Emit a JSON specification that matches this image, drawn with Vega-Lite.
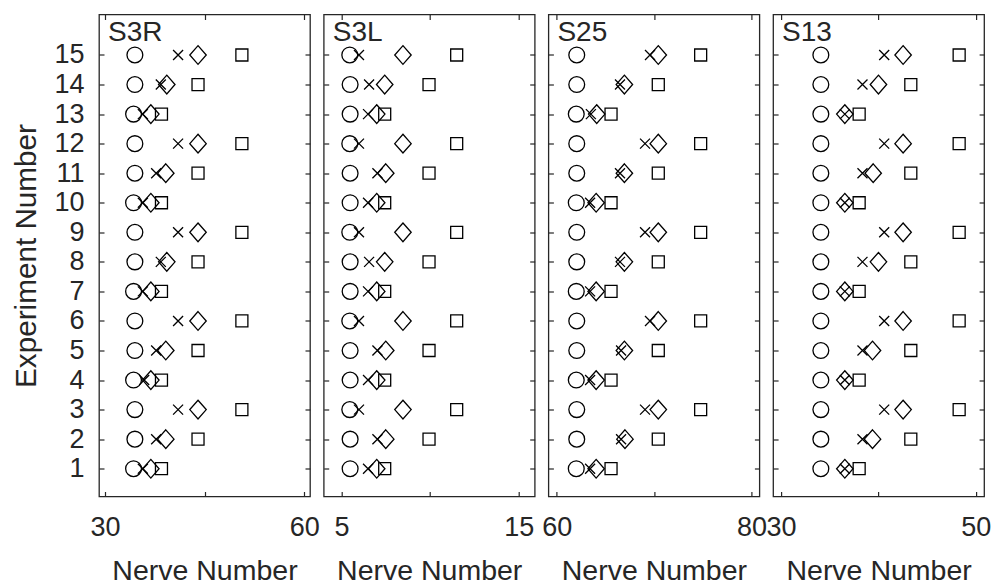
{
  "$schema": "https://vega.github.io/schema/vega-lite/v6.json",
  "autosize": {"type": "pad"},
  "padding": {"left": 10, "top": 12.5, "right": 3, "bottom": 0},
  "bounds": "flush",
  "spacing": 13.7,
  "background": "white",
  "data": {"values": [
    {"panel": "S3R", "exp": 15, "circle": 34.5, "cross": 41.0, "diamond": 44.0, "square": 50.6},
    {"panel": "S3R", "exp": 14, "circle": 34.5, "cross": 38.4, "diamond": 39.3, "square": 44.0},
    {"panel": "S3R", "exp": 13, "circle": 34.3, "cross": 35.7, "diamond": 36.9, "square": 38.5},
    {"panel": "S3R", "exp": 12, "circle": 34.5, "cross": 41.0, "diamond": 44.0, "square": 50.6},
    {"panel": "S3R", "exp": 11, "circle": 34.5, "cross": 37.7, "diamond": 39.15, "square": 44.0},
    {"panel": "S3R", "exp": 10, "circle": 34.3, "cross": 35.7, "diamond": 36.9, "square": 38.5},
    {"panel": "S3R", "exp": 9, "circle": 34.5, "cross": 41.0, "diamond": 44.0, "square": 50.6},
    {"panel": "S3R", "exp": 8, "circle": 34.5, "cross": 38.4, "diamond": 39.3, "square": 44.0},
    {"panel": "S3R", "exp": 7, "circle": 34.3, "cross": 35.7, "diamond": 36.9, "square": 38.5},
    {"panel": "S3R", "exp": 6, "circle": 34.5, "cross": 41.0, "diamond": 44.0, "square": 50.6},
    {"panel": "S3R", "exp": 5, "circle": 34.5, "cross": 37.7, "diamond": 39.15, "square": 44.0},
    {"panel": "S3R", "exp": 4, "circle": 34.3, "cross": 35.9, "diamond": 36.9, "square": 38.5},
    {"panel": "S3R", "exp": 3, "circle": 34.5, "cross": 41.0, "diamond": 44.0, "square": 50.6},
    {"panel": "S3R", "exp": 2, "circle": 34.5, "cross": 37.7, "diamond": 39.15, "square": 44.0},
    {"panel": "S3R", "exp": 1, "circle": 34.3, "cross": 35.7, "diamond": 36.9, "square": 38.5},
    {"panel": "S3L", "exp": 15, "circle": 5.47, "cross": 5.99, "diamond": 8.47, "square": 11.5},
    {"panel": "S3L", "exp": 14, "circle": 5.49, "cross": 6.56, "diamond": 7.44, "square": 9.94},
    {"panel": "S3L", "exp": 13, "circle": 5.49, "cross": 6.5, "diamond": 6.99, "square": 7.44},
    {"panel": "S3L", "exp": 12, "circle": 5.47, "cross": 5.99, "diamond": 8.47, "square": 11.5},
    {"panel": "S3L", "exp": 11, "circle": 5.49, "cross": 7.03, "diamond": 7.5, "square": 9.94},
    {"panel": "S3L", "exp": 10, "circle": 5.49, "cross": 6.5, "diamond": 6.99, "square": 7.44},
    {"panel": "S3L", "exp": 9, "circle": 5.47, "cross": 5.99, "diamond": 8.47, "square": 11.5},
    {"panel": "S3L", "exp": 8, "circle": 5.49, "cross": 6.56, "diamond": 7.44, "square": 9.94},
    {"panel": "S3L", "exp": 7, "circle": 5.49, "cross": 6.5, "diamond": 6.99, "square": 7.44},
    {"panel": "S3L", "exp": 6, "circle": 5.47, "cross": 5.99, "diamond": 8.47, "square": 11.5},
    {"panel": "S3L", "exp": 5, "circle": 5.49, "cross": 7.03, "diamond": 7.5, "square": 9.94},
    {"panel": "S3L", "exp": 4, "circle": 5.49, "cross": 6.5, "diamond": 6.99, "square": 7.44},
    {"panel": "S3L", "exp": 3, "circle": 5.47, "cross": 5.99, "diamond": 8.47, "square": 11.5},
    {"panel": "S3L", "exp": 2, "circle": 5.49, "cross": 7.03, "diamond": 7.5, "square": 9.94},
    {"panel": "S3L", "exp": 1, "circle": 5.49, "cross": 6.5, "diamond": 6.99, "square": 7.44},
    {"panel": "S25", "exp": 15, "circle": 62.05, "cross": 69.57, "diamond": 70.42, "square": 74.77},
    {"panel": "S25", "exp": 14, "circle": 62.05, "cross": 66.49, "diamond": 66.94, "square": 70.42},
    {"panel": "S25", "exp": 13, "circle": 62.0, "cross": 63.5, "diamond": 64.1, "square": 65.57},
    {"panel": "S25", "exp": 12, "circle": 62.05, "cross": 69.06, "diamond": 70.42, "square": 74.77},
    {"panel": "S25", "exp": 11, "circle": 62.05, "cross": 66.49, "diamond": 66.94, "square": 70.42},
    {"panel": "S25", "exp": 10, "circle": 62.0, "cross": 63.42, "diamond": 64.04, "square": 65.57},
    {"panel": "S25", "exp": 9, "circle": 62.05, "cross": 69.06, "diamond": 70.42, "square": 74.77},
    {"panel": "S25", "exp": 8, "circle": 62.05, "cross": 66.49, "diamond": 66.94, "square": 70.42},
    {"panel": "S25", "exp": 7, "circle": 62.0, "cross": 63.42, "diamond": 64.04, "square": 65.57},
    {"panel": "S25", "exp": 6, "circle": 62.05, "cross": 69.57, "diamond": 70.42, "square": 74.77},
    {"panel": "S25", "exp": 5, "circle": 62.05, "cross": 66.6, "diamond": 66.94, "square": 70.42},
    {"panel": "S25", "exp": 4, "circle": 62.0, "cross": 63.42, "diamond": 64.04, "square": 65.57},
    {"panel": "S25", "exp": 3, "circle": 62.05, "cross": 69.06, "diamond": 70.42, "square": 74.77},
    {"panel": "S25", "exp": 2, "circle": 62.05, "cross": 66.6, "diamond": 67.0, "square": 70.42},
    {"panel": "S25", "exp": 1, "circle": 62.0, "cross": 63.42, "diamond": 64.04, "square": 65.57},
    {"panel": "S13", "exp": 15, "circle": 34.1, "cross": 40.6, "diamond": 42.54, "square": 48.29},
    {"panel": "S13", "exp": 14, "circle": 34.1, "cross": 38.37, "diamond": 40.01, "square": 43.33},
    {"panel": "S13", "exp": 13, "circle": 34.1, "cross": 36.56, "diamond": 36.56, "square": 38.03},
    {"panel": "S13", "exp": 12, "circle": 34.1, "cross": 40.6, "diamond": 42.54, "square": 48.29},
    {"panel": "S13", "exp": 11, "circle": 34.1, "cross": 38.37, "diamond": 39.47, "square": 43.33},
    {"panel": "S13", "exp": 10, "circle": 34.1, "cross": 36.56, "diamond": 36.56, "square": 38.03},
    {"panel": "S13", "exp": 9, "circle": 34.1, "cross": 40.6, "diamond": 42.54, "square": 48.29},
    {"panel": "S13", "exp": 8, "circle": 34.1, "cross": 38.37, "diamond": 40.01, "square": 43.33},
    {"panel": "S13", "exp": 7, "circle": 34.1, "cross": 36.56, "diamond": 36.56, "square": 38.03},
    {"panel": "S13", "exp": 6, "circle": 34.1, "cross": 40.6, "diamond": 42.54, "square": 48.29},
    {"panel": "S13", "exp": 5, "circle": 34.1, "cross": 38.37, "diamond": 39.4, "square": 43.33},
    {"panel": "S13", "exp": 4, "circle": 34.1, "cross": 36.56, "diamond": 36.56, "square": 38.03},
    {"panel": "S13", "exp": 3, "circle": 34.1, "cross": 40.6, "diamond": 42.54, "square": 48.29},
    {"panel": "S13", "exp": 2, "circle": 34.1, "cross": 38.37, "diamond": 39.4, "square": 43.33},
    {"panel": "S13", "exp": 1, "circle": 34.1, "cross": 36.56, "diamond": 36.56, "square": 38.03}
  ]},
  "config": {
    "font": "Liberation Sans",
    "view": {"stroke": "#262626", "strokeWidth": 1.3},
    "axis": {
      "domain": false, "grid": false,
      "tickColor": "#262626", "tickSize": -5, "tickWidth": 1.2,
      "labelFont": "Liberation Sans", "labelFontSize": 27, "labelColor": "#262626",
      "titleFont": "Liberation Sans", "titleFontSize": 29.7, "titleFontWeight": "normal", "titleColor": "#262626"
    },
    "axisBottom": {"labelPadding": 23, "titlePadding": 16, "titleFontSize": 28.5, "labelFlush": false},
    "axisLeft": {"labelPadding": 20, "titlePadding": 12.5},
    "title": {"font": "Liberation Sans", "fontSize": 28, "fontWeight": "normal", "color": "#262626", "anchor": "start", "frame": "group", "baseline": "top", "offset": -33.5, "dx": 9}
  },
  "hconcat": [
    {
      "width": 211, "height": 482,
      "title": {"text": "S3R"},
      "transform": [{"filter": "datum.panel == 'S3R'"}, {"fold": ["circle", "cross", "diamond", "square"], "as": ["marker", "value"]}],
      "layer": [
        {
          "mark": {"type": "point", "filled": false, "stroke": "black", "strokeWidth": 1.3, "opacity": 1},
          "encoding": {
            "x": {"field": "value", "type": "quantitative", "scale": {"domain": [29.1, 60.85], "nice": false, "zero": false}, "axis": {"orient": "bottom", "values": [30, 45, 60], "labelExpr": "datum.index > 0 && datum.index < 1 ? '' : datum.label", "title": "Nerve Number"}},
            "y": {"field": "exp", "type": "quantitative", "scale": {"domain": [0.06, 16.37], "nice": false, "zero": false}, "axis": {"orient": "left", "values": [1,2,3,4,5,6,7,8,9,10,11,12,13,14,15], "title": "Experiment Number"}},
            "shape": {"field": "marker", "type": "nominal", "scale": {"domain": ["circle", "cross", "diamond", "square"], "range": ["circle", "M-1,-1L1,1M-1,1L1,-1", "M0,-1L0.88,0L0,1L-0.88,0Z", "square"]}, "legend": null},
            "size": {"field": "marker", "type": "nominal", "scale": {"type": "ordinal", "domain": ["circle", "cross", "diamond", "square"], "range": [250, 100, 350, 144]}, "legend": null}
          }
        },
        {
          "mark": {"type": "point", "opacity": 0},
          "encoding": {
            "x": {"field": "value", "type": "quantitative", "scale": {"domain": [29.1, 60.85], "nice": false, "zero": false}, "axis": {"orient": "top", "values": [30, 45, 60], "labels": false, "title": null}},
            "y": {"field": "exp", "type": "quantitative", "scale": {"domain": [0.06, 16.37], "nice": false, "zero": false}, "axis": {"orient": "right", "values": [1,2,3,4,5,6,7,8,9,10,11,12,13,14,15], "labels": false, "title": null}}
          }
        }
      ],
      "resolve": {"axis": {"x": "independent", "y": "independent"}}
    },
    {
      "width": 211, "height": 482,
      "title": {"text": "S3L"},
      "transform": [{"filter": "datum.panel == 'S3L'"}, {"fold": ["circle", "cross", "diamond", "square"], "as": ["marker", "value"]}],
      "layer": [
        {
          "mark": {"type": "point", "filled": false, "stroke": "black", "strokeWidth": 1.3, "opacity": 1},
          "encoding": {
            "x": {"field": "value", "type": "quantitative", "scale": {"domain": [4.0, 15.9], "nice": false, "zero": false}, "axis": {"orient": "bottom", "values": [5, 10, 15], "labelExpr": "datum.index > 0 && datum.index < 1 ? '' : datum.label", "title": "Nerve Number"}},
            "y": {"field": "exp", "type": "quantitative", "scale": {"domain": [0.06, 16.37], "nice": false, "zero": false}, "axis": {"orient": "left", "values": [1,2,3,4,5,6,7,8,9,10,11,12,13,14,15], "labels": false, "title": null}},
            "shape": {"field": "marker", "type": "nominal", "scale": {"domain": ["circle", "cross", "diamond", "square"], "range": ["circle", "M-1,-1L1,1M-1,1L1,-1", "M0,-1L0.88,0L0,1L-0.88,0Z", "square"]}, "legend": null},
            "size": {"field": "marker", "type": "nominal", "scale": {"type": "ordinal", "domain": ["circle", "cross", "diamond", "square"], "range": [250, 100, 350, 144]}, "legend": null}
          }
        },
        {
          "mark": {"type": "point", "opacity": 0},
          "encoding": {
            "x": {"field": "value", "type": "quantitative", "scale": {"domain": [4.0, 15.9], "nice": false, "zero": false}, "axis": {"orient": "top", "values": [5, 10, 15], "labels": false, "title": null}},
            "y": {"field": "exp", "type": "quantitative", "scale": {"domain": [0.06, 16.37], "nice": false, "zero": false}, "axis": {"orient": "right", "values": [1,2,3,4,5,6,7,8,9,10,11,12,13,14,15], "labels": false, "title": null}}
          }
        }
      ],
      "resolve": {"axis": {"x": "independent", "y": "independent"}}
    },
    {
      "width": 211, "height": 482,
      "title": {"text": "S25"},
      "transform": [{"filter": "datum.panel == 'S25'"}, {"fold": ["circle", "cross", "diamond", "square"], "as": ["marker", "value"]}],
      "layer": [
        {
          "mark": {"type": "point", "filled": false, "stroke": "black", "strokeWidth": 1.3, "opacity": 1},
          "encoding": {
            "x": {"field": "value", "type": "quantitative", "scale": {"domain": [59.14, 80.8], "nice": false, "zero": false}, "axis": {"orient": "bottom", "values": [60, 70, 80], "labelExpr": "datum.index > 0 && datum.index < 1 ? '' : datum.label", "title": "Nerve Number"}},
            "y": {"field": "exp", "type": "quantitative", "scale": {"domain": [0.06, 16.37], "nice": false, "zero": false}, "axis": {"orient": "left", "values": [1,2,3,4,5,6,7,8,9,10,11,12,13,14,15], "labels": false, "title": null}},
            "shape": {"field": "marker", "type": "nominal", "scale": {"domain": ["circle", "cross", "diamond", "square"], "range": ["circle", "M-1,-1L1,1M-1,1L1,-1", "M0,-1L0.88,0L0,1L-0.88,0Z", "square"]}, "legend": null},
            "size": {"field": "marker", "type": "nominal", "scale": {"type": "ordinal", "domain": ["circle", "cross", "diamond", "square"], "range": [250, 100, 350, 144]}, "legend": null}
          }
        },
        {
          "mark": {"type": "point", "opacity": 0},
          "encoding": {
            "x": {"field": "value", "type": "quantitative", "scale": {"domain": [59.14, 80.8], "nice": false, "zero": false}, "axis": {"orient": "top", "values": [60, 70, 80], "labels": false, "title": null}},
            "y": {"field": "exp", "type": "quantitative", "scale": {"domain": [0.06, 16.37], "nice": false, "zero": false}, "axis": {"orient": "right", "values": [1,2,3,4,5,6,7,8,9,10,11,12,13,14,15], "labels": false, "title": null}}
          }
        }
      ],
      "resolve": {"axis": {"x": "independent", "y": "independent"}}
    },
    {
      "width": 211, "height": 482,
      "title": {"text": "S13"},
      "transform": [{"filter": "datum.panel == 'S13'"}, {"fold": ["circle", "cross", "diamond", "square"], "as": ["marker", "value"]}],
      "layer": [
        {
          "mark": {"type": "point", "filled": false, "stroke": "black", "strokeWidth": 1.3, "opacity": 1},
          "encoding": {
            "x": {"field": "value", "type": "quantitative", "scale": {"domain": [29.2, 50.85], "nice": false, "zero": false}, "axis": {"orient": "bottom", "values": [30, 40, 50], "labelExpr": "datum.index > 0 && datum.index < 1 ? '' : datum.label", "title": "Nerve Number"}},
            "y": {"field": "exp", "type": "quantitative", "scale": {"domain": [0.06, 16.37], "nice": false, "zero": false}, "axis": {"orient": "left", "values": [1,2,3,4,5,6,7,8,9,10,11,12,13,14,15], "labels": false, "title": null}},
            "shape": {"field": "marker", "type": "nominal", "scale": {"domain": ["circle", "cross", "diamond", "square"], "range": ["circle", "M-1,-1L1,1M-1,1L1,-1", "M0,-1L0.88,0L0,1L-0.88,0Z", "square"]}, "legend": null},
            "size": {"field": "marker", "type": "nominal", "scale": {"type": "ordinal", "domain": ["circle", "cross", "diamond", "square"], "range": [250, 100, 350, 144]}, "legend": null}
          }
        },
        {
          "mark": {"type": "point", "opacity": 0},
          "encoding": {
            "x": {"field": "value", "type": "quantitative", "scale": {"domain": [29.2, 50.85], "nice": false, "zero": false}, "axis": {"orient": "top", "values": [30, 40, 50], "labels": false, "title": null}},
            "y": {"field": "exp", "type": "quantitative", "scale": {"domain": [0.06, 16.37], "nice": false, "zero": false}, "axis": {"orient": "right", "values": [1,2,3,4,5,6,7,8,9,10,11,12,13,14,15], "labels": false, "title": null}}
          }
        }
      ],
      "resolve": {"axis": {"x": "independent", "y": "independent"}}
    }
  ]
}
